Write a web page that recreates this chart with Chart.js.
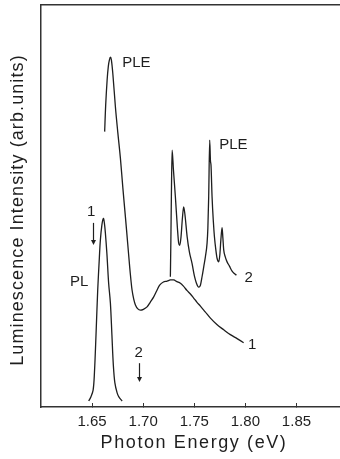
<!DOCTYPE html>
<html>
<head>
<meta charset="utf-8">
<script src="https://cdn.jsdelivr.net/npm/chart.js@4.4.0/dist/chart.umd.min.js"></script>
<style>
    html, body { margin: 0; padding: 0; background: #ffffff; }
    canvas { display: block; }
</style>
</head>
<body>
<canvas id="specChart" width="340" height="459"></canvas>
<script>
// photon energy (eV) / intensity (arb. units, 0..100)
const plX = [1.6467, 1.6488, 1.6510, 1.6523, 1.6539, 1.6555, 1.6571, 1.6581, 1.6596, 1.6610, 1.6620, 1.6630, 1.6645, 1.6662, 1.6679, 1.6694, 1.6708, 1.6723, 1.6745, 1.6762, 1.6794];
const plY = [1.5, 2.5, 4.2, 8.5, 18.4, 29.1, 37.1, 41.5, 45.3, 46.9, 45.8, 43.3, 38.1, 30.8, 25.9, 17.9, 10.4, 6.0, 3.5, 2.5, 1.5];

const ple1X = [1.6623, 1.6633, 1.6647, 1.6659, 1.6669, 1.6679, 1.6689, 1.6704, 1.6728, 1.6752, 1.6777, 1.6801, 1.6826, 1.6848, 1.6868, 1.6880, 1.6891, 1.6907, 1.6924, 1.6948, 1.6973, 1.7002, 1.7038, 1.7070, 1.7103, 1.7134, 1.7161, 1.7198, 1.7234, 1.7266, 1.7298, 1.7330, 1.7364, 1.7396, 1.7428, 1.7462, 1.7494, 1.7525, 1.7560, 1.7609, 1.7658, 1.7721, 1.7788, 1.7853, 1.7919, 1.7983];
const ple1Y = [68.5, 75.1, 81.3, 84.8, 86.3, 87.0, 86.3, 82.6, 74.7, 68.2, 61.9, 54.5, 47.3, 40.8, 34.8, 31.6, 29.1, 26.9, 25.4, 24.4, 24.1, 24.3, 24.9, 26.1, 27.4, 29.0, 30.3, 31.1, 31.3, 31.6, 31.6, 31.2, 30.8, 30.0, 29.0, 28.1, 27.1, 26.1, 25.1, 23.6, 22.1, 20.5, 19.2, 18.0, 17.0, 16.0];

const ple2X = [1.7266, 1.7271, 1.7276, 1.7283, 1.7296, 1.7315, 1.7335, 1.7347, 1.7357, 1.7369, 1.7384, 1.7396, 1.7408, 1.7430, 1.7452, 1.7478, 1.7501, 1.7521, 1.7543, 1.7560, 1.7576, 1.7594, 1.7609, 1.7625, 1.7633, 1.7641, 1.7651, 1.7658, 1.7664, 1.7674, 1.7687, 1.7697, 1.7711, 1.7723, 1.7739, 1.7750, 1.7760, 1.7772, 1.7780, 1.7788, 1.7804, 1.7821, 1.7843, 1.7870, 1.7892, 1.7912];
const ple2Y = [32.4, 41.5, 52.7, 63.9, 59.0, 52.3, 44.5, 40.8, 40.2, 42.0, 47.0, 49.8, 48.0, 42.4, 38.6, 35.7, 32.6, 30.8, 29.8, 30.3, 32.4, 35.1, 37.4, 40.7, 44.5, 52.3, 66.4, 61.4, 60.0, 52.3, 46.0, 42.4, 39.1, 37.0, 36.1, 37.8, 41.5, 44.6, 42.0, 39.1, 37.3, 36.1, 35.1, 33.8, 33.2, 32.8];

const tickValues = [1.65, 1.70, 1.75, 1.80, 1.85];

// text notes on the plot (data coordinates)
const noteText = ["PLE", "PLE", "PL", "1", "2", "1", "2"];
const noteX = [1.6934, 1.7883, 1.6373, 1.8066, 1.8032, 1.6490, 1.6956];
const noteY = [85.6, 65.2, 31.1, 15.4, 32.1, 48.6, 13.4];

// excitation arrows
const arrowX = [1.6510, 1.6956];
const arrowTop = [45.8, 10.9];
const arrowBottom = [40.3, 6.2];

const xMin = 1.60;
const xMax = 1.8926;

const ink = "#1e1e1e";

function toPoints(xs, ys)
{
    return xs.map(function(x, i) { return { x: x, y: ys[i] }; });
}

function curve(xs, ys, smooth)
{
    const ds = {
        data: toPoints(xs, ys),
        borderColor: ink,
        borderWidth: 1.3,
        pointRadius: 0,
        fill: false
    };
    if (smooth)
    {
        ds.tension = 0.35;
    }
    else
    {
        ds.cubicInterpolationMode = "monotone";
    }
    return ds;
}

const notesPlugin =
{
    id: "notes",
    afterDraw: function(chart)
    {
        const ctx = chart.ctx;
        const xs = chart.scales.x;
        const ys = chart.scales.y;

        ctx.save();
        ctx.fillStyle = ink;
        ctx.strokeStyle = ink;
        ctx.font = "15px 'Liberation Sans', Arial, sans-serif";
        ctx.textAlign = "center";
        ctx.textBaseline = "middle";
        noteText.forEach(function(t, i)
        {
            ctx.fillText(t, xs.getPixelForValue(noteX[i]), ys.getPixelForValue(noteY[i]));
        });

        arrowX.forEach(function(v, i)
        {
            const px = Math.round(xs.getPixelForValue(v)) + 0.5;
            const y1 = ys.getPixelForValue(arrowTop[i]);
            const y2 = ys.getPixelForValue(arrowBottom[i]);
            ctx.lineWidth = 1.2;
            ctx.beginPath();
            ctx.moveTo(px, y1);
            ctx.lineTo(px, y2 - 3);
            ctx.stroke();
            ctx.beginPath();
            ctx.moveTo(px - 2.5, y2 - 5);
            ctx.lineTo(px + 2.5, y2 - 5);
            ctx.lineTo(px, y2);
            ctx.closePath();
            ctx.fill();
        });

        // axis titles
        ctx.font = "18px 'Liberation Sans', Arial, sans-serif";
        ctx.letterSpacing = "1.6px";
        ctx.fillText("Photon Energy (eV)", 194, 443);

        ctx.translate(18, 210);
        ctx.rotate(-Math.PI / 2);
        ctx.letterSpacing = "1.1px";
        ctx.fillText("Luminescence Intensity (arb.units)", 0, 0);
        ctx.restore();
    }
};

new Chart(document.getElementById("specChart"),
{
    type: "line",
    data:
    {
        datasets: [
            curve(plX, plY, true),
            curve(ple1X, ple1Y, true),
            curve(ple2X, ple2Y, false)
        ]
    },
    options:
    {
        responsive: false,
        animation: false,
        devicePixelRatio: 1,
        layout: { padding: 0 },
        plugins:
        {
            legend: { display: false },
            tooltip: { enabled: false }
        },
        scales:
        {
            x:
            {
                type: "linear",
                position: "bottom",
                min: xMin,
                max: xMax,
                afterBuildTicks: function(scale)
                {
                    scale.ticks = tickValues.map(function(v) { return { value: v }; });
                },
                afterFit: function(scale) { scale.height = 52; },
                ticks:
                {
                    padding: 10,
                    color: ink,
                    font: { family: "'Liberation Sans', Arial, sans-serif", size: 15 },
                    maxRotation: 0,
                    callback: function(value) { return Number(value).toFixed(2); }
                },
                grid:
                {
                    drawOnChartArea: false,
                    drawTicks: true,
                    tickLength: -4,
                    color: "#333333",
                    lineWidth: 1
                },
                border: { display: true, color: "#333333", width: 1.5 }
            },
            xTop:
            {
                type: "linear",
                position: "top",
                min: xMin,
                max: xMax,
                afterFit: function(scale) { scale.height = 5; },
                ticks: { display: false },
                grid: { display: false, drawTicks: false },
                border: { display: true, color: "#333333", width: 1.5 }
            },
            y:
            {
                type: "linear",
                position: "left",
                min: 0,
                max: 100,
                afterFit: function(scale) { scale.width = 41; },
                ticks: { display: false },
                grid: { display: false, drawTicks: false },
                border: { display: true, color: "#333333", width: 1.5 }
            }
        }
    },
    plugins: [notesPlugin]
});
</script>
</body>
</html>
